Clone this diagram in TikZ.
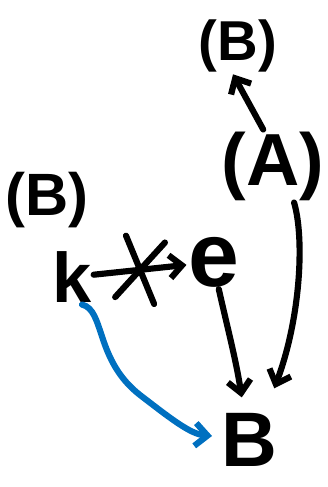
\documentclass[tikz,border=0pt]{standalone}
\usepackage{fontspec}
\setmainfont{Liberation Sans}
\usetikzlibrary{arrows.meta,shapes.misc}
\definecolor{penblue}{RGB}{0,112,192}
\tikzset{
  ink/.style={line width=3.5pt, line cap=round, line join=round,
    -{Straight Barb[length=7pt,width=13pt]}},
  word/.style={inner sep=1pt, font=\bfseries},
}

\begin{document}
\begin{tikzpicture}[x=0.02cm,y=-0.02cm]
    \useasboundingbox (0,0) rectangle (328,487);
    % labels
    \node[word] (topB) at (238,46) {\fontsize{32}{36}\selectfont (B)};
    \node[word] (A) at (273,166) {\fontsize{42}{46}\selectfont (A)};
    \node[word] (leftB) at (47,200) {\fontsize{34}{38}\selectfont (B)};
    \node[word] (k) at (72,277) {\fontsize{40}{44}\selectfont k};
    \node[word] (e) at (214,262) {\fontsize{52}{56}\selectfont e};
    \node[word] (B) at (249,440) {\fontsize{44}{48}\selectfont B};
    % arrows
    \draw[ink] (A.105) -- (topB.-100);
    \draw[ink] (k) -- node[cross out, draw, line width=3.5pt, minimum width=19pt,
        minimum height=32pt, rotate=-10] {} (e);
    \draw[ink, shorten >=8pt] (e.-80) .. controls (228,330) and (236,360) .. (B.100);
    \draw[ink, shorten >=14pt] (A.-60) .. controls (305,240) and (300,320) .. (B.60);
    \draw[ink, penblue] (k.-70) .. controls (105,310) and (95,360) .. (140,395)
        .. controls (170,418) and (190,434) .. (212,436);
\end{tikzpicture}
\end{document}
